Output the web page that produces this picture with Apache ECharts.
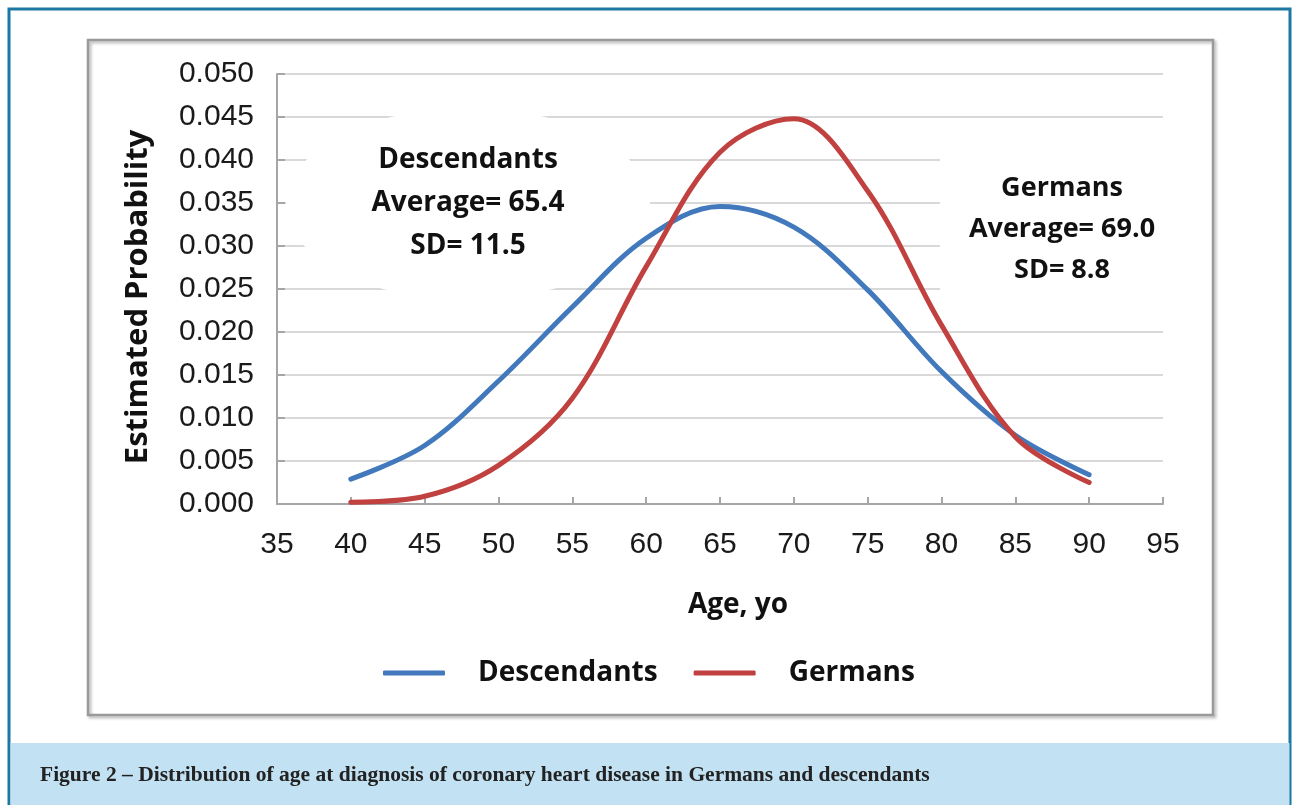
<!DOCTYPE html>
<html>
<head>
<meta charset="utf-8">
<script src="https://cdn.jsdelivr.net/npm/echarts@6/dist/echarts.min.js"></script>
<style>
  html, body { margin: 0; padding: 0; background: #fff; }
  #chart { width: 1295px; height: 805px; }
</style>
</head>
<body>
<div id="chart"></div>
<script>
// ages (yo) where the curves were sampled
const ages = [40, 45, 50, 55, 60, 65, 70, 75, 80, 85, 90];
// estimated probability
const descendants = [0.0029, 0.0068, 0.0143, 0.0229, 0.0309, 0.0346, 0.0322, 0.0249, 0.0154, 0.0080, 0.0034];
const germans = [0.0002, 0.0009, 0.0045, 0.0123, 0.0276, 0.0409, 0.0448, 0.0364, 0.0208, 0.0078, 0.0025];
const seriesNames = ["Descendants", "Germans"];
const notes = [
  "Descendants\nAverage= 65.4\nSD= 11.5",
  "Germans\nAverage= 69.0\nSD= 8.8",
];
const caption = "Figure 2 \u2013 Distribution of age at diagnosis of coronary heart disease in Germans and descendants";

const labelFont = "Liberation Sans, Arial, sans-serif";
const boldFont = "Open Sans, Lato, sans-serif";

const myChart = echarts.init(document.getElementById("chart"));

function pairs(values) {
  return ages.map((a, i) => [a, values[i]]);
}

const option = {
  backgroundColor: "#fff",
  animation: false,
  grid: { left: 277, right: 132, top: 74, bottom: 301 },
  legend: {
    left: 378,
    top: 654,
    icon: "roundRect",
    itemWidth: 62,
    itemHeight: 5,
    itemGap: 36,
    data: seriesNames,
    textStyle: {
      fontFamily: boldFont,
      fontWeight: "bold",
      fontSize: 28,
      color: "#111",
      padding: [0, 0, 0, 28],
    },
  },
  xAxis: {
    type: "value",
    min: 35,
    max: 95,
    interval: 5,
    name: "Age, yo",
    nameLocation: "middle",
    nameGap: 87,
    nameTextStyle: {
      fontFamily: boldFont,
      fontWeight: "bold",
      fontSize: 28,
      color: "#111",
      padding: [0, 0, 0, 36],
    },
    axisLine: { lineStyle: { color: "#a6a6a6", width: 2 } },
    axisTick: { inside: true, length: 7, lineStyle: { color: "#a6a6a6", width: 2 } },
    axisLabel: { margin: 26, fontFamily: labelFont, fontSize: 30, color: "#1a1a1a" },
    splitLine: { show: false },
  },
  yAxis: {
    type: "value",
    min: 0,
    max: 0.05,
    interval: 0.005,
    name: "Estimated Probability",
    nameLocation: "middle",
    nameGap: 123,
    nameTextStyle: {
      fontFamily: boldFont,
      fontWeight: "bold",
      fontSize: 31,
      color: "#111",
      padding: [0, 16, 0, 0],
    },
    axisLine: { show: true, lineStyle: { color: "#a6a6a6", width: 2 } },
    axisTick: { show: true, inside: true, length: 8, lineStyle: { color: "#a6a6a6", width: 2 } },
    axisLabel: {
      margin: 23,
      fontFamily: labelFont,
      fontSize: 30,
      color: "#1a1a1a",
      formatter: (v) => v.toFixed(3),
    },
    splitLine: { show: true, lineStyle: { color: "#d9d9d9", width: 2 } },
  },
  series: [
    {
      name: seriesNames[0],
      type: "line",
      data: pairs(descendants),
      smooth: 0.35,
      symbol: "none",
      z: 5,
      itemStyle: { color: "#4279bd" },
      lineStyle: { color: "#4279bd", width: 5, cap: "round" },
    },
    {
      name: seriesNames[1],
      type: "line",
      data: pairs(germans),
      smooth: 0.35,
      symbol: "none",
      z: 5,
      itemStyle: { color: "#c0413f" },
      lineStyle: { color: "#c0413f", width: 5, cap: "round" },
    },
  ],
  graphic: [
    // outer frame of the figure
    {
      type: "rect",
      z: 0,
      shape: { x: 9, y: 9, width: 1281, height: 830 },
      style: { fill: null, stroke: "#1b78a3", lineWidth: 3 },
    },
    // caption band
    {
      type: "rect",
      z: 0,
      shape: { x: 10.5, y: 743, width: 1279, height: 70 },
      style: { fill: "#c2e1f2" },
    },
    {
      type: "text",
      z: 1,
      style: {
        text: caption,
        x: 40,
        y: 775,
        font: "bold 21.5px 'Liberation Serif', 'DejaVu Serif', serif",
        fill: "#222",
        align: "left",
        verticalAlign: "middle",
        textAlign: "left",
        textVerticalAlign: "middle",
      },
    },
    // chart box
    {
      type: "rect",
      z: 0,
      shape: { x: 88, y: 40, width: 1125, height: 675 },
      style: {
        fill: null,
        stroke: "#9a9a9a",
        lineWidth: 2.5,
        shadowBlur: 3,
        shadowOffsetX: 2,
        shadowOffsetY: 2,
        shadowColor: "rgba(0,0,0,0.3)",
      },
    },
    // white patches behind the notes
    {
      type: "ellipse",
      z: 1,
      shape: { cx: 468, cy: 204, rx: 182, ry: 96 },
      style: { fill: "#fff" },
    },
    {
      type: "rect",
      z: 1,
      shape: { x: 940, y: 135, width: 240, height: 175 },
      style: { fill: "#fff" },
    },
    {
      type: "text",
      z: 2,
      style: {
        text: notes[0],
        x: 468,
        y: 203,
        font: "bold 28px 'Open Sans', sans-serif",
        lineHeight: 43,
        fill: "#111",
        align: "center",
        verticalAlign: "middle",
        textAlign: "center",
        textVerticalAlign: "middle",
      },
    },
    {
      type: "text",
      z: 2,
      style: {
        text: notes[1],
        x: 1062,
        y: 229,
        font: "bold 27px 'Open Sans', sans-serif",
        lineHeight: 41,
        fill: "#111",
        align: "center",
        verticalAlign: "middle",
        textAlign: "center",
        textVerticalAlign: "middle",
      },
    },
  ],
};

myChart.setOption(option);
</script>
</body>
</html>
